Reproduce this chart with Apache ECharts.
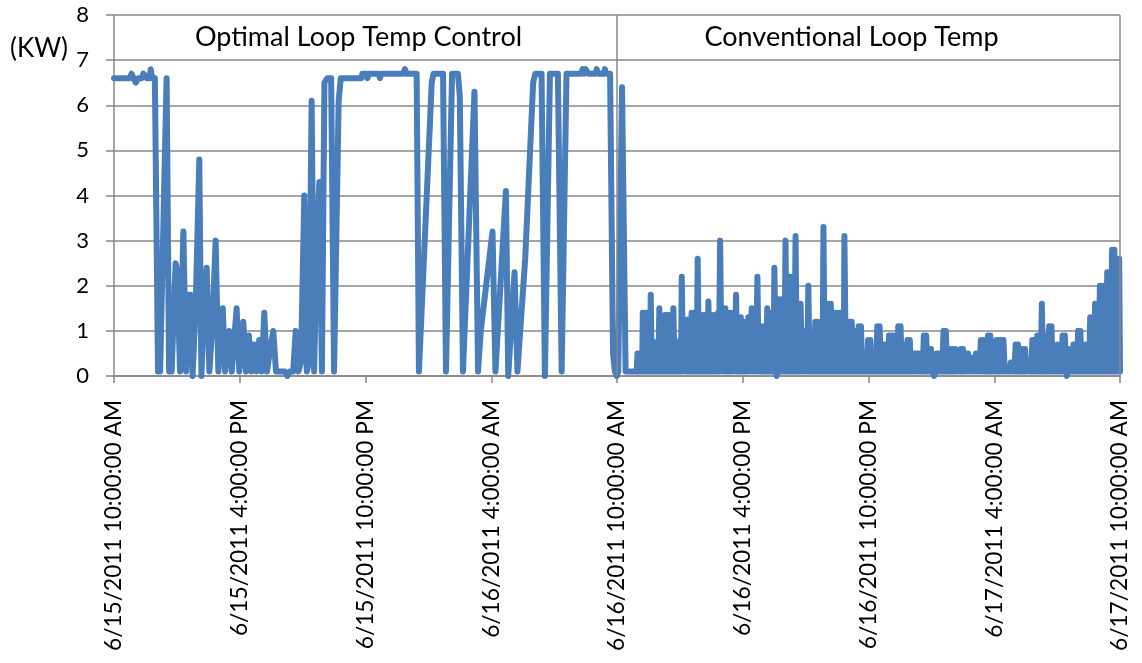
<!DOCTYPE html>
<html>
<head>
<meta charset="utf-8">
<script src="https://cdn.jsdelivr.net/npm/echarts@6/dist/echarts.min.js"></script>
<style>
html,body{margin:0;padding:0;background:#fff;}
#chart{width:1142px;height:663px;}
</style>
</head>
<body>
<div id="chart"></div>
<script>
// x = hours since 6/15/2011 10:00:00 AM, y = kW
const tickLabels = ['6/15/2011 10:00:00 AM','6/15/2011 4:00:00 PM','6/15/2011 10:00:00 PM','6/16/2011 4:00:00 AM','6/16/2011 10:00:00 AM','6/16/2011 4:00:00 PM','6/16/2011 10:00:00 PM','6/17/2011 4:00:00 AM','6/17/2011 10:00:00 AM'];
const regionNames = ['Optimal Loop Temp Control','Conventional Loop Temp'];
const regionBounds = [0, 24, 48];
const yAxisUnit = '(KW)';

const optimalKW = [
[0,6.6],[0.75,6.6],[0.84,6.7],[0.93,6.6],[1.04,6.5],[1.15,6.6],[1.33,6.6],[1.40,6.7],[1.48,6.7],[1.56,6.6],
[1.70,6.6],[1.75,6.8],[1.82,6.6],[1.95,6.6],[2.10,0.1],[2.20,0.1],[2.51,6.6],[2.63,0.1],[2.75,0.1],[2.94,2.5],
[3.02,2.3],[3.15,0.1],[3.31,3.2],[3.44,0.1],[3.55,1.8],[3.65,1.8],[3.75,0],[3.90,1.6],[4.07,4.8],[4.17,0],
[4.30,1.6],[4.42,2.4],[4.55,0.1],[4.68,1.0],[4.85,3.0],[4.98,0.1],[5.08,0.9],[5.19,1.5],[5.30,0.1],[5.40,0.6],
[5.50,1.0],[5.62,0.1],[5.85,1.5],[5.98,0.1],[6.17,1.2],[6.30,0.1],[6.44,0.9],[6.56,0.1],[6.68,0.7],[6.80,0.1],
[6.93,0.8],[7.05,0.1],[7.17,1.4],[7.30,0.1],[7.42,0.5],[7.60,1.0],[7.73,0.1],[8.16,0.1],[8.27,0],[8.40,0.1],
[8.55,0.1],[8.67,1.0],[8.80,0.1],[8.92,0.3],[9.08,4.0],[9.20,0.1],[9.30,0.3],[9.43,6.1],[9.55,0.1],[9.68,3.0],
[9.80,4.3],[9.92,0.1],[10.04,6.5],[10.18,6.6],[10.36,6.6],[10.50,0.1],[10.58,0.1],[10.72,6.1],[10.82,6.6],[11.81,6.6],
[11.85,6.7],[12.02,6.7],[12.09,6.6],[12.16,6.7],[12.62,6.7],[12.69,6.6],[12.76,6.7],[13.80,6.7],[13.88,6.8],[13.96,6.7],
[14.44,6.7],[14.55,0.1],[14.64,0.1],[15.16,6.5],[15.25,6.7],[15.70,6.7],[15.84,0.1],[16.13,6.7],[16.41,6.7],[16.50,6.2],
[16.65,0.1],[17.20,6.3],[17.37,0.1],[17.50,1.0],[18.06,3.2],[18.20,0.1],[18.70,4.1],[18.81,0],[19.11,2.3],[19.25,0.1],
[19.62,2.6],[20.00,6.5],[20.10,6.7],[20.40,6.7],[20.56,0],[20.80,6.7],[21.18,6.7],[21.36,0.1],[21.59,6.7],[22.30,6.7],
[22.36,6.8],[22.44,6.7],[22.50,6.8],[22.58,6.8],[22.64,6.7],[22.98,6.7],[23.03,6.8],[23.10,6.7],[23.37,6.7],[23.42,6.8],
[23.48,6.7],[23.67,6.7],[23.81,0.5],[23.90,0.1],[23.99,0],[24.06,0.1],[24.24,6.4],[24.41,0.1]
];

const conventionalKW = [
[24.94,0.1],
[24.98,0.5],[25.03,0.1],[25.08,0.5],[25.13,0.1],[25.17,0.5],[25.20,0.1],
[25.23,1.4],[25.28,0.1],[25.34,1.4],[25.40,0.1],[25.45,1.4],[25.50,0.1],[25.55,0.75],[25.58,0.1],
[25.61,1.8],[25.66,0.1],[25.71,0.75],[25.76,0.1],[25.81,0.75],[25.86,0.1],[25.91,0.75],[25.97,0.1],
[26.02,1.5],[26.07,0.1],[26.12,0.75],[26.16,0.1],[26.20,0.75],[26.25,0.1],
[26.29,1.35],[26.34,0.1],[26.40,1.35],[26.45,0.1],[26.50,1.35],[26.55,0.1],[26.60,1.2],[26.65,0.1],
[26.69,1.5],[26.75,0.1],[26.81,0.75],[26.86,0.1],[26.92,0.75],[26.97,0.1],[27.02,0.8],[27.05,0.1],
[27.09,2.2],[27.15,0.1],[27.24,1.25],[27.30,0.1],[27.36,1.25],[27.42,0.1],[27.48,1.25],[27.52,0.1],
[27.56,1.4],[27.61,0.1],[27.66,1.4],[27.71,0.1],[27.74,1.3],[27.80,0.1],
[27.85,2.6],[27.91,0.1],[27.96,1.35],[28.02,0.1],[28.08,1.35],[28.14,0.1],[28.20,1.35],[28.24,0.1],[28.27,1.35],[28.31,0.1],
[28.36,1.65],[28.42,0.1],[28.47,1.35],[28.53,0.1],[28.59,1.35],[28.65,0.1],[28.71,1.35],[28.77,0.1],[28.82,1.4],[28.86,0.1],
[28.92,3.0],[28.99,0.1],[29.06,1.5],[29.12,0.1],[29.17,1.5],[29.24,0.1],[29.30,1.4],[29.36,0.1],[29.42,1.4],[29.48,0.1],[29.54,1.4],[29.61,0.1],
[29.68,1.8],[29.74,0.1],[29.79,1.3],[29.85,0.1],[29.91,1.3],[29.97,0.1],[30.03,1.2],[30.09,0.1],[30.15,1.2],[30.21,0.1],[30.27,1.3],[30.35,0.1],
[30.43,1.5],[30.49,0.1],[30.55,1.3],[30.63,0.1],
[30.70,2.2],[30.76,0.1],[30.81,1.1],[30.87,0.1],[30.93,1.1],[30.99,0.1],[31.05,1.1],[31.11,0.1],
[31.17,1.5],[31.23,0.1],[31.29,1.4],[31.35,0.1],[31.40,1.4],[31.46,0.1],
[31.51,2.4],[31.57,0.1],[31.62,0],[31.66,0.1],[31.70,1.7],[31.76,0.1],[31.82,1.7],[31.88,0.1],[31.93,1.7],[31.99,0.1],
[32.04,3.0],[32.10,0.1],[32.16,2.2],[32.22,0.1],[32.28,2.2],[32.34,0.1],[32.40,2.2],[32.46,0.1],
[32.52,3.1],[32.58,0.1],[32.64,1.6],[32.70,0.1],[32.76,1.6],[32.82,0.1],[32.88,1.0],[32.94,0.1],[33.00,1.0],[33.07,0.1],
[33.13,2.0],[33.19,0.1],[33.24,0.9],[33.30,0.1],[33.35,0.9],[33.41,0.1],[33.46,1.2],[33.52,0.1],[33.57,1.2],[33.62,0.1],
[33.67,1.0],[33.72,0.1],[33.77,1.0],[33.81,0.1],
[33.85,3.3],[33.91,0.1],[33.97,1.6],[34.03,0.1],[34.09,1.6],[34.15,0.1],[34.20,1.6],[34.26,0.1],[34.31,0.8],[34.37,0.1],
[34.43,1.4],[34.49,0.1],[34.55,1.4],[34.61,0.1],[34.66,1.4],[34.72,0.1],[34.78,1.4],[34.82,0.1],
[34.85,3.1],[34.92,0.1],[34.98,1.2],[35.04,0.1],[35.09,1.2],[35.15,0.1],[35.20,1.2],[35.26,0.1],[35.31,1.0],[35.37,0.1],[35.42,1.0],[35.48,0.1],
[35.53,1.1],[35.59,0.1],[35.64,1.1],[35.70,0.1],[35.76,0.5],[35.82,0.1],[35.87,0.5],[35.93,0.1],[35.98,0.8],[36.04,0.1],[36.09,0.8],[36.15,0.1],
[36.20,0.5],[36.26,0.1],[36.31,0.5],[36.37,0.1],[36.42,1.1],[36.48,0.1],[36.53,1.1],[36.59,0.1],[36.64,0.7],[36.70,0.1],[36.76,0.7],[36.82,0.1],[36.87,0.7],[36.93,0.1],
[36.98,0.9],[37.04,0.1],[37.09,0.9],[37.15,0.1],[37.20,0.9],[37.26,0.1],[37.31,0.9],[37.37,0.1],[37.42,1.1],[37.48,0.1],[37.53,1.1],[37.59,0.1],
[37.64,0.7],[37.70,0.1],[37.75,0.7],[37.81,0.1],[37.86,0.8],[37.92,0.1],[37.97,0.8],[38.03,0.1],
[38.08,0.5],[38.14,0.1],[38.20,0.5],[38.26,0.1],[38.31,0.5],[38.37,0.1],[38.42,0.5],[38.48,0.1],[38.53,0.5],[38.59,0.1],
[38.64,0.9],[38.70,0.1],[38.75,0.9],[38.81,0.1],[38.87,0.6],[38.93,0.1],[38.98,0.6],[39.05,0.1],[39.13,0],[39.19,0.1],
[39.24,0.5],[39.30,0.1],[39.35,0.5],[39.41,0.1],[39.46,0.5],[39.52,0.1],[39.58,1.0],[39.64,0.1],[39.69,1.0],[39.75,0.1],
[39.80,0.6],[39.86,0.1],[39.92,0.6],[39.98,0.1],[40.03,0.6],[40.09,0.1],[40.14,0.6],[40.20,0.1],[40.27,0.2],[40.34,0.1],
[40.40,0.6],[40.46,0.1],[40.51,0.6],[40.57,0.1],[40.64,0.5],[40.70,0.1],[40.76,0.5],[40.82,0.1],[40.88,0.4],[40.94,0.1],[41.00,0.4],[41.06,0.1],
[41.12,0.5],[41.18,0.1],[41.24,0.5],[41.30,0.1],[41.36,0.8],[41.42,0.1],[41.48,0.8],[41.54,0.1],[41.59,0.8],[41.65,0.1],[41.70,0.9],[41.76,0.1],[41.81,0.9],[41.87,0.1],
[41.93,0.3],[41.99,0.1],[42.04,0.3],[42.07,0.1],[42.10,0.8],[42.16,0.1],[42.21,0.8],[42.27,0.1],[42.32,0.8],[42.38,0.1],[42.44,0.8],[42.50,0.1],
[42.56,0.2],[42.62,0.1],[42.67,0.2],[42.73,0.1],[42.79,0.3],[42.85,0.1],[42.90,0.3],[42.96,0.1],[43.02,0.7],[43.08,0.1],[43.13,0.7],[43.19,0.1],
[43.25,0.6],[43.31,0.1],[43.36,0.6],[43.42,0.1],[43.47,0.6],[43.53,0.1],[43.59,0.2],[43.65,0.1],[43.70,0.2],[43.76,0.1],[43.82,0.8],[43.88,0.1],[43.93,0.8],[43.99,0.1],
[44.05,0.9],[44.11,0.1],[44.16,0.9],[44.22,0.1],[44.27,1.6],[44.33,0.1],[44.39,0.9],[44.45,0.1],[44.50,0.9],[44.56,0.1],[44.62,1.1],[44.68,0.1],[44.73,1.1],[44.79,0.1],
[44.85,0.3],[44.90,0.1],[44.96,0.3],[44.99,0.1],[45.02,0.7],[45.08,0.1],[45.13,0.7],[45.19,0.1],[45.26,0.9],[45.32,0.1],[45.37,0.9],[45.42,0.1],[45.46,0],[45.50,0.1],
[45.55,0.6],[45.61,0.1],[45.66,0.6],[45.72,0.1],[45.78,0.7],[45.84,0.1],[45.89,0.7],[45.95,0.1],[46.00,1.0],[46.06,0.1],[46.11,1.0],[46.17,0.1],
[46.23,0.5],[46.29,0.1],[46.35,0.7],[46.41,0.1],[46.46,0.7],[46.52,0.1],[46.58,1.3],[46.64,0.1],[46.69,1.3],[46.75,0.1],[46.81,1.6],[46.87,0.1],[46.92,1.6],[46.98,0.1],
[47.04,2.0],[47.10,0.1],[47.16,2.0],[47.22,0.1],[47.27,2.0],[47.33,0.1],[47.39,2.3],[47.45,0.1],[47.50,2.3],[47.56,0.1],[47.62,2.8],[47.68,0.1],[47.73,2.8],[47.79,0.1],
[47.85,2.6],[47.91,0.1],[47.96,2.6],[48.00,0.1]
];

const FONT = 'Lato';
const GRAY = '#888888';
const chart = echarts.init(document.getElementById('chart'), null, {renderer:'canvas'});
chart.setOption({
  animation:false,
  backgroundColor:'#ffffff',
  grid:{left:114, right:22, top:15, bottom:287, containLabel:false},
  graphic:[{type:'text', left:10, top:36, style:{text:yAxisUnit, font:'26px '+FONT, fill:'#000'}}],
  xAxis:{
    type:'value', min:regionBounds[0], max:regionBounds[2], interval:6,
    axisLine:{show:true, onZero:false, lineStyle:{color:GRAY, width:1.5}},
    axisTick:{show:true, length:7, lineStyle:{color:GRAY, width:1.5}},
    splitLine:{show:false},
    axisLabel:{rotate:90, margin:24, fontSize:22.7, fontFamily:FONT, color:'#000',
      formatter:function(v){return tickLabels[Math.round(v/6)];}}
  },
  yAxis:{
    type:'value', min:0, max:8, interval:1,
    axisLine:{show:true, lineStyle:{color:GRAY, width:1.5}},
    axisTick:{show:true, length:8, lineStyle:{color:GRAY, width:1.5}},
    splitLine:{show:true, lineStyle:{color:GRAY, width:1.5}},
    axisLabel:{margin:25, fontSize:22, fontFamily:FONT, color:'#000'}
  },
  series:[{
    type:'line',
    data:optimalKW.concat(conventionalKW),
    showSymbol:false, symbol:'none', smooth:false,
    lineStyle:{color:'#4A7EBB', width:6, cap:'round', join:'round'},
    itemStyle:{color:'#4A7EBB'},
    markLine:{silent:true, symbol:'none', label:{show:false},
      lineStyle:{color:GRAY, width:1.5, type:'solid'},
      data:[{xAxis:regionBounds[1]},{xAxis:regionBounds[2]}]},
    markArea:{silent:true, itemStyle:{color:'rgba(0,0,0,0)'},
      label:{show:true, position:'inside', fontSize:27, fontFamily:FONT, color:'#000'},
      data:[
        [{name:regionNames[0], coord:[regionBounds[0],7], label:{offset:[-7,0]}},{coord:[regionBounds[1],8]}],
        [{name:regionNames[1], coord:[regionBounds[1],7], label:{offset:[-17,0]}},{coord:[regionBounds[2],8]}]
      ]}
  }]
});
</script>
</body>
</html>
